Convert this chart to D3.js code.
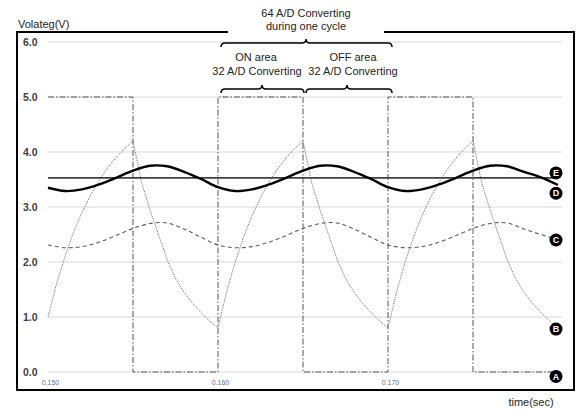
<!DOCTYPE html>
<html>
<head>
<meta charset="utf-8">
<script src="https://cdn.jsdelivr.net/npm/d3@7"></script>
<style>
  body { margin: 0; background: #fff; }
  text { font-family: "Liberation Sans", "DejaVu Sans", sans-serif; }
</style>
</head>
<body>
<svg id="chart" width="579" height="412"></svg>
<script>
// sample times (sec)
const tempo = [0.150, 0.151, 0.152, 0.153, 0.154, 0.155, 0.156, 0.157, 0.158, 0.159,
  0.160, 0.161, 0.162, 0.163, 0.164, 0.165, 0.166, 0.167, 0.168, 0.169,
  0.170, 0.171, 0.172, 0.173, 0.174, 0.175, 0.176, 0.177, 0.178, 0.179, 0.180];

const tempoB = [0.1500, 0.1505, 0.1510, 0.1515, 0.1520, 0.1525, 0.1530, 0.1535, 0.1540, 0.1545,
  0.1550, 0.1555, 0.1560, 0.1565, 0.1570, 0.1575, 0.1580, 0.1585, 0.1590, 0.1595,
  0.1600, 0.1605, 0.1610, 0.1615, 0.1620, 0.1625, 0.1630, 0.1635, 0.1640, 0.1645,
  0.1650, 0.1655, 0.1660, 0.1665, 0.1670, 0.1675, 0.1680, 0.1685, 0.1690, 0.1695,
  0.1700, 0.1705, 0.1710, 0.1715, 0.1720, 0.1725, 0.1730, 0.1735, 0.1740, 0.1745,
  0.1750, 0.1755, 0.1760, 0.1765, 0.1770, 0.1775, 0.1780, 0.1785, 0.1790, 0.1795, 0.1800];

// A: PWM square wave
const tempoA = [0.150, 0.155, 0.160, 0.165, 0.170, 0.175, 0.180];
const serieA = [5, 0, 5, 0, 5, 0, 0];

// B: capacitor voltage
const serieB = [1.00, 1.60, 2.10, 2.54, 2.90, 3.21, 3.48, 3.71, 3.90, 4.06, 4.20,
  3.45, 2.95, 2.50, 2.05, 1.70, 1.45, 1.25, 1.08, 0.93, 0.80,
  1.45, 1.99, 2.45, 2.84, 3.17, 3.45, 3.69, 3.89, 4.06, 4.20,
  3.45, 2.95, 2.50, 2.05, 1.70, 1.45, 1.25, 1.08, 0.93, 0.80,
  1.45, 1.99, 2.45, 2.84, 3.17, 3.45, 3.69, 3.89, 4.06, 4.20,
  3.45, 2.95, 2.50, 2.05, 1.70, 1.45, 1.25, 1.08, 0.93, 0.80];

// C, D: filtered outputs
const serieC = [2.31, 2.26, 2.28, 2.36, 2.48, 2.61, 2.70, 2.71, 2.60, 2.45,
  2.31, 2.26, 2.28, 2.36, 2.48, 2.61, 2.70, 2.71, 2.60, 2.45,
  2.31, 2.26, 2.28, 2.36, 2.48, 2.61, 2.70, 2.71, 2.60, 2.50, 2.41];

const serieD = [3.35, 3.29, 3.32, 3.41, 3.53, 3.66, 3.75, 3.74, 3.64, 3.51,
  3.36, 3.29, 3.32, 3.41, 3.53, 3.66, 3.75, 3.74, 3.64, 3.51,
  3.36, 3.29, 3.32, 3.41, 3.53, 3.66, 3.75, 3.74, 3.64, 3.54, 3.40];

// E: average level
const tempoE = [0.150, 0.180];
const serieE = [3.53, 3.53];

const yTicks = [0, 1, 2, 3, 4, 5, 6];
const xTicks = [0.150, 0.160, 0.170];

// series end markers: letter and label level
const marcadores = [
  { letra: "A", v: -0.08 },
  { letra: "B", v: 0.78 },
  { letra: "C", v: 2.40 },
  { letra: "D", v: 3.25 },
  { letra: "E", v: 3.62 }
];

const svg = d3.select("#chart");

const x = d3.scaleLinear().domain([0.150, 0.180]).range([48, 558]);
const y = d3.scaleLinear().domain([0, 6]).range([372, 42]);

// grade
svg.selectAll(".grade")
  .data(yTicks)
  .enter()
  .append("line")
  .attr("class", "grade")
  .attr("x1", 48).attr("x2", 562)
  .attr("y1", d => y(d)).attr("y2", d => y(d))
  .attr("stroke", "#d9d9d9")
  .attr("stroke-width", 1);

// eixo y
const eixoY = svg.append("g")
  .attr("transform", "translate(38,0)")
  .call(d3.axisLeft(y).tickValues(yTicks).tickFormat(d3.format(".1f")).tickSize(0));
eixoY.select(".domain").remove();
eixoY.selectAll("text")
  .attr("x", -15)
  .attr("text-anchor", "start")
  .attr("font-size", 10.5)
  .attr("font-weight", "bold")
  .attr("fill", "#404040")
  .attr("font-family", "Liberation Sans, sans-serif");

// eixo x
const eixoX = svg.append("g")
  .attr("transform", "translate(2,377)")
  .call(d3.axisBottom(x).tickValues(xTicks).tickFormat(d3.format(".3f")).tickSize(0));
eixoX.select(".domain").remove();
eixoX.selectAll("text")
  .attr("font-size", 7)
  .attr("fill", "#5b6e8a")
  .attr("font-family", "Liberation Sans, sans-serif");

const reta = d3.line().x(d => x(d[0])).y(d => y(d[1]));
const suave = d3.line().x(d => x(d[0])).y(d => y(d[1])).curve(d3.curveCatmullRom.alpha(0.5));

// A
svg.append("path")
  .datum(tempoA.map((t, i) => [t, serieA[i]]))
  .attr("d", d3.line().x(d => x(d[0])).y(d => y(d[1])).curve(d3.curveStepAfter))
  .attr("fill", "none")
  .attr("stroke", "#555")
  .attr("stroke-width", 1)
  .attr("stroke-dasharray", "6,2,1.5,2");

// B
svg.append("path")
  .datum(tempoB.map((t, i) => [t, serieB[i]]))
  .attr("d", reta)
  .attr("fill", "none")
  .attr("stroke", "#6e6e6e")
  .attr("stroke-width", 1)
  .attr("stroke-dasharray", "1,1");

// C
svg.append("path")
  .datum(tempo.map((t, i) => [t, serieC[i]]))
  .attr("d", suave)
  .attr("fill", "none")
  .attr("stroke", "#5a5a5a")
  .attr("stroke-width", 1.1)
  .attr("stroke-dasharray", "4,3");

// E
svg.append("path")
  .datum(tempoE.map((t, i) => [t, serieE[i]]))
  .attr("d", reta)
  .attr("fill", "none")
  .attr("stroke", "#404040")
  .attr("stroke-width", 1.6);

// D
svg.append("path")
  .datum(tempo.map((t, i) => [t, serieD[i]]))
  .attr("d", suave)
  .attr("fill", "none")
  .attr("stroke", "#000")
  .attr("stroke-width", 2.4);

// marcadores
const marc = svg.selectAll(".marc")
  .data(marcadores)
  .enter()
  .append("g")
  .attr("class", "marc")
  .attr("transform", d => `translate(${x(0.180) - 2},${y(d.v)})`);
marc.append("circle").attr("r", 6.5).attr("fill", "#000");
marc.append("text")
  .attr("text-anchor", "middle")
  .attr("dy", "0.35em")
  .attr("font-size", 9)
  .attr("font-weight", "bold")
  .attr("fill", "#fff")
  .text(d => d.letra);

// moldura
svg.append("path")
  .attr("d", "M228,32 H17 V390 H574 V32 H384")
  .attr("fill", "none")
  .attr("stroke", "#000")
  .attr("stroke-width", 2);

// chaves
function chave(x1, x2, xm, yy, h) {
  return `M${x1},${yy + h} Q${x1},${yy} ${x1 + h},${yy} L${xm - h},${yy} ` +
    `Q${xm},${yy} ${xm},${yy - h} Q${xm},${yy} ${xm + h},${yy} L${x2 - h},${yy} Q${x2},${yy} ${x2},${yy + h}`;
}
[[221, 392, 306, 43, 4], [221, 304, 262, 89, 4], [306, 392, 347, 89, 4]].forEach(c => {
  svg.append("path")
    .attr("d", chave(...c))
    .attr("fill", "none")
    .attr("stroke", "#000")
    .attr("stroke-width", 1.5);
});

// textos
const textos = [
  { t: "64 A/D Converting", x: 306, y: 17 },
  { t: "during one cycle", x: 306, y: 30 },
  { t: "ON area", x: 256, y: 61 },
  { t: "32 A/D Converting", x: 257, y: 75 },
  { t: "OFF area", x: 353, y: 61 },
  { t: "32 A/D Converting", x: 353, y: 75 }
];
svg.selectAll(".anot")
  .data(textos)
  .enter()
  .append("text")
  .attr("class", "anot")
  .attr("x", d => d.x).attr("y", d => d.y)
  .attr("text-anchor", "middle")
  .attr("font-size", 11)
  .attr("fill", "#222")
  .text(d => d.t);

svg.append("text")
  .attr("x", 18).attr("y", 28)
  .attr("font-size", 11)
  .attr("fill", "#222")
  .text("Volateg(V)");

svg.append("text")
  .attr("x", 531).attr("y", 406)
  .attr("text-anchor", "middle")
  .attr("font-size", 11)
  .attr("fill", "#222")
  .text("time(sec)");
</script>
</body>
</html>
